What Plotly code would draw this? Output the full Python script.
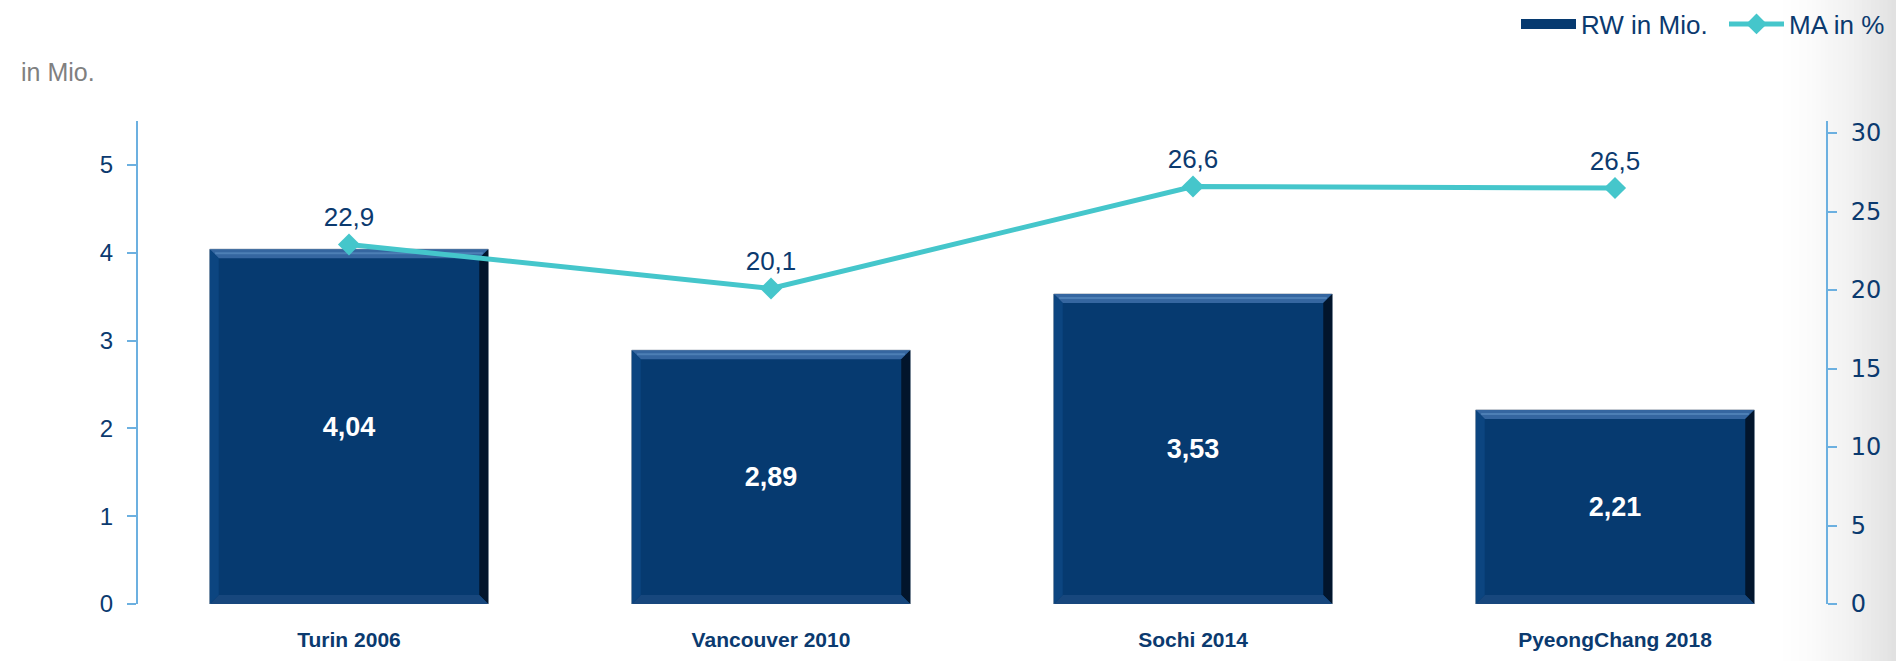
import plotly.graph_objects as go

categories = ["Turin 2006", "Vancouver 2010", "Sochi 2014", "PyeongChang 2018"]
rw_mio = [4.04, 2.89, 3.53, 2.21]
ma_pct = [22.9, 20.1, 26.6, 26.5]
left_ticks = [0, 1, 2, 3, 4, 5]
right_ticks = [0, 5, 10, 15, 20, 25, 30]

NAVY = "#0b3a6f"
AXIS = "#6cb0e0"
TEAL = "#45c6cb"
BAR = "#063a70"

W, H = 1896, 661
ML, MR, MT, MB = 138, 70, 121, 57
PW, PH = W - ML - MR, H - MT - MB
YMAX, Y2MAX = 5.5, 30.77
BARW = 0.66

idx = list(range(len(categories)))

fig = go.Figure()
fig.add_trace(go.Bar(
    x=idx, y=rw_mio, name="RW in Mio.", width=BARW, showlegend=False,
    marker=dict(color=BAR, line=dict(color="#9aa5b1", width=1)),
    texttemplate="%{y:.2f}", textposition="inside", insidetextanchor="middle",
    textfont=dict(family="Liberation Sans, Arial", size=27, color="white", weight="bold"),
    yaxis="y", hoverinfo="skip",
))

# bevel facets derived from bar positions/values
px_x = PW / len(categories)
px_y = PH / YMAX
dx = 9 / px_x
dy = 9 / px_y
hw = BARW / 2
facet_cols = {"top": "#3566a0", "right": "#02152c", "bottom": "#17477d", "left": "#0c4580"}
for i, v in zip(idx, rw_mio):
    L, R = i - hw, i + hw
    polys = {
        "top": ([L, R, R - dx, L + dx, L], [v, v, v - dy, v - dy, v]),
        "right": ([R, R, R - dx, R - dx, R], [v, 0, dy, v - dy, v]),
        "bottom": ([L, R, R - dx, L + dx, L], [0, 0, dy, dy, 0]),
        "left": ([L, L, L + dx, L + dx, L], [v, 0, dy, v - dy, v]),
    }
    for k, (xs, ys) in polys.items():
        fig.add_trace(go.Scatter(x=xs, y=ys, mode="lines", fill="toself",
                                 fillcolor=facet_cols[k], line=dict(width=0),
                                 showlegend=False, hoverinfo="skip", yaxis="y"))
    fig.add_trace(go.Scatter(x=[L + dx * 0.6, R - dx * 0.6], y=[v - dy * 0.45, v - dy * 0.45],
                             mode="lines", line=dict(color="#4d7fb5", width=2),
                             showlegend=False, hoverinfo="skip", yaxis="y"))

# legend entry for bars
fig.add_trace(go.Scatter(x=[None], y=[None], mode="lines", name="RW in Mio.",
                         line=dict(color=BAR, width=13)))

fig.add_trace(go.Scatter(
    x=idx, y=ma_pct, name="MA in %", mode="lines+markers+text",
    line=dict(color=TEAL, width=5),
    marker=dict(symbol="diamond", size=17, color=TEAL),
    texttemplate="%{y:.1f}", textposition="top center",
    textfont=dict(family="Liberation Sans, Arial", size=26, color=NAVY),
    yaxis="y2", cliponaxis=False, hoverinfo="skip",
))

# soft gray gradient on the right edge (slide background)
shapes = []
n = 30
x_start = 1770
step = (W - x_start) / n
for i in range(n):
    t = (i + 1) / n
    g = int(round(255 - 30 * t ** 1.8))
    shapes.append(dict(type="rect", xref="paper", yref="paper",
                       x0=(x_start + i * step - ML) / PW, x1=(x_start + (i + 1) * step - ML + 0.6) / PW,
                       y0=-0.3, y1=1.4, line=dict(width=0),
                       fillcolor=f"rgb({g},{g},{g})", layer="below"))

fig.update_layout(
    width=W, height=H,
    margin=dict(l=ML, r=MR, t=MT, b=MB, autoexpand=False),
    paper_bgcolor="white", plot_bgcolor="rgba(0,0,0,0)",
    separators=",.",
    showlegend=True,
    legend=dict(orientation="h", x=(1516 - ML) / PW, xanchor="left", xref="paper",
                y=(H - MB - 24) / PH, yanchor="middle",
                font=dict(family="Liberation Sans, Arial", size=26, color=NAVY),
                bgcolor="rgba(0,0,0,0)", itemwidth=55, tracegroupgap=0,
                entrywidth=138, entrywidthmode="pixels"),
    xaxis=dict(range=[-0.5, len(categories) - 0.5], tickvals=idx, ticktext=categories,
               showline=False, showgrid=False, zeroline=False, ticks="",
               tickfont=dict(family="Liberation Sans, Arial", size=21, color=NAVY, weight="bold"),
               ticklabelstandoff=21),
    yaxis=dict(range=[0, YMAX], tickvals=left_ticks, showgrid=False, zeroline=False,
               showline=True, linecolor=AXIS, linewidth=2,
               ticks="outside", ticklen=9, tickcolor=AXIS, tickwidth=2,
               ticklabelstandoff=9,
               tickfont=dict(family="Liberation Sans, Arial", size=24, color=NAVY)),
    yaxis2=dict(range=[0, Y2MAX], tickvals=right_ticks, overlaying="y", side="right",
                showgrid=False, zeroline=False,
                showline=True, linecolor=AXIS, linewidth=2,
                ticks="outside", ticklen=9, tickcolor=AXIS, tickwidth=2,
                ticklabelstandoff=9,
                tickfont=dict(family="DejaVu Sans, Verdana", size=24, color=NAVY)),
    shapes=shapes,
    annotations=[dict(text="in Mio.", xref="paper", yref="paper",
                      x=(19 - ML) / PW, xanchor="left",
                      y=(H - MB - 72) / PH, yanchor="middle",
                      showarrow=False,
                      font=dict(family="Liberation Sans, Arial", size=25, color="#808080"))],
)

fig.write_html("out.html", config={"displayModeBar": False},
               post_script="document.body.style.margin='0';")
